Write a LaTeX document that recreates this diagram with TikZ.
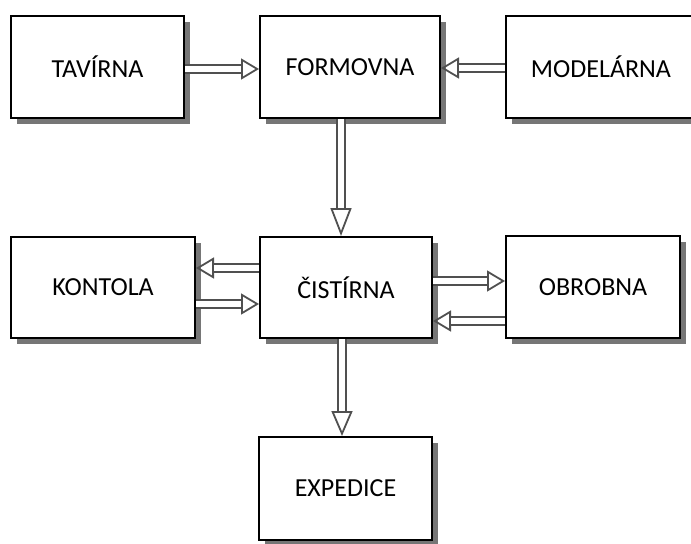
\documentclass[tikz,border=0pt]{standalone}
\usepackage{fontspec}
\setmainfont{Carlito}
\usetikzlibrary{arrows.meta,shadows}
\definecolor{arrowgray}{HTML}{505050}
\definecolor{shadowgray}{HTML}{767676}

\begin{document}
\begin{tikzpicture}[x=0.5pt, y=-0.5pt]
    \tikzset{
        dept box/.style={rectangle, draw=black, fill=white, line width=1pt,
            minimum height=51pt, font=\fontsize{13}{15}\selectfont,
            drop shadow={shadow xshift=3pt, shadow yshift=-3pt, fill=shadowgray, opacity=1}},
        flow/.style={draw=arrowgray, line width=0.9pt,
            -{Triangle[open, length=#1, width=10.5pt, line width=0.9pt]},
            postaction={draw=arrowgray, -, double=white, double distance=3.4pt,
                line width=0.9pt, shorten >=#1}},
        flow/.default=9pt
    }
\useasboundingbox (0,0) rectangle (691,543);
\clip (0,0) rectangle (691,543);
\node[dept box, minimum width=86.5pt] (tavirna) at (97.5, 67) {TAVÍRNA};
\node[dept box, minimum width=90pt] (formovna) at (350, 67) {FORMOVNA};
\node[dept box, minimum width=95pt] (modelarna) at (601, 67) {MODELÁRNA};
\node[dept box, minimum width=92pt, minimum height=50.5pt] (kontola) at (103, 287.5) {KONTOLA};
\node[dept box, minimum width=86pt, minimum height=50.5pt] (cistirna) at (346, 287.5) {ČISTÍRNA};
\node[dept box, minimum width=87pt] (obrobna) at (593, 287) {OBROBNA};
\node[dept box, minimum width=86.5pt, minimum height=51.5pt] (expedice) at (345.5, 488.5) {EXPEDICE};
\draw[flow] ([yshift=-1pt]tavirna.east) -- ([yshift=-1pt]formovna.west);
\draw[flow] ([yshift=-0.5pt]modelarna.west) -- ([yshift=-0.5pt]formovna.east);
\draw[flow=14pt] ([xshift=-4.5pt]formovna.south) -- ([xshift=-2.5pt]cistirna.north);
\draw[flow] ([yshift=9.75pt]cistirna.west) -- ([yshift=9.75pt]kontola.east);
\draw[flow] ([yshift=-8.25pt]kontola.east) -- ([yshift=-8.25pt]cistirna.west);
\draw[flow] ([yshift=3.25pt]cistirna.east) -- ([yshift=3pt]obrobna.west);
\draw[flow] ([yshift=-17pt]obrobna.west) -- ([yshift=-16.75pt]cistirna.east);
\draw[flow=12.5pt] ([xshift=-2pt]cistirna.south) -- ([xshift=-1.75pt]expedice.north);
\end{tikzpicture}
\end{document}
